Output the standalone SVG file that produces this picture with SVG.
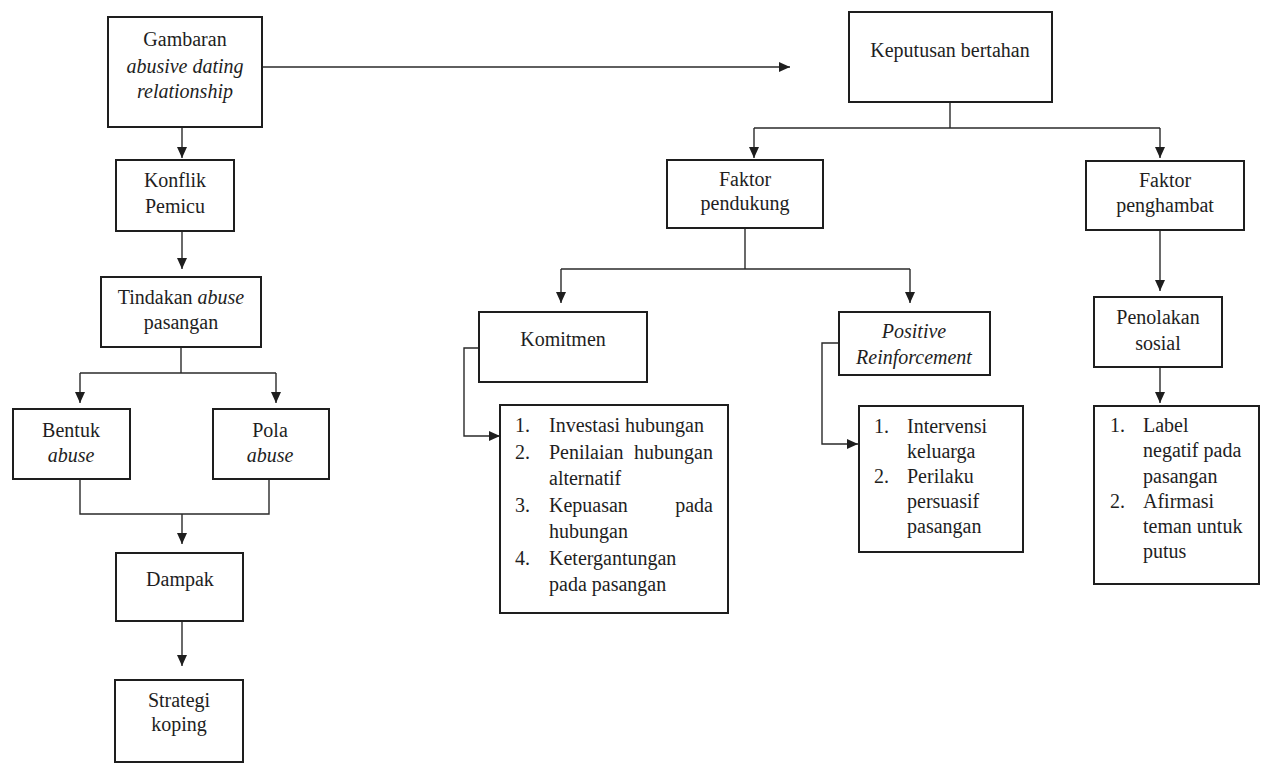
<svg xmlns="http://www.w3.org/2000/svg" width="1268" height="766" viewBox="0 0 1268 766">
  <style>
    .box { fill: #ffffff; stroke: #1e1e1e; stroke-width: 2; }
    .t { font-family: "Liberation Serif", "Times New Roman", serif; font-size: 20px; fill: #1e1e1e; }
    .c { text-anchor: middle; }
    .e { text-anchor: end; }
    .i { font-style: italic; }
    .wire { fill: none; stroke: #2a2a2a; stroke-width: 1.4; }
  </style>
  <defs>
    <marker id="arrow" markerUnits="userSpaceOnUse" markerWidth="11" markerHeight="10" refX="11" refY="5" orient="auto">
      <path d="M0,0 L11,5 L0,10 z" fill="#1e1e1e"/>
    </marker>
  </defs>
  <rect width="1268" height="766" fill="#ffffff"/>

  <!-- connectors -->
  <g id="connectors" class="wire">
    <path d="M262,67 H790" marker-end="url(#arrow)"/>
    <path d="M182,127 V158" marker-end="url(#arrow)"/>
    <path d="M182,231 V269" marker-end="url(#arrow)"/>
    <path d="M181,347 V373"/>
    <path d="M80,373 H276"/>
    <path d="M80,373 V403" marker-end="url(#arrow)"/>
    <path d="M276,373 V403" marker-end="url(#arrow)"/>
    <path d="M80,479 V514 H269 V479"/>
    <path d="M182,514 V544" marker-end="url(#arrow)"/>
    <path d="M182,621 V666" marker-end="url(#arrow)"/>
    <path d="M950,102 V128"/>
    <path d="M754,128 H1160"/>
    <path d="M754,128 V158" marker-end="url(#arrow)"/>
    <path d="M1160,128 V158" marker-end="url(#arrow)"/>
    <path d="M745,228 V269"/>
    <path d="M561,269 H910"/>
    <path d="M561,269 V303" marker-end="url(#arrow)"/>
    <path d="M910,269 V303" marker-end="url(#arrow)"/>
    <path d="M479,348 H464 V436 H500" marker-end="url(#arrow)"/>
    <path d="M839,343 H822 V444 H858" marker-end="url(#arrow)"/>
    <path d="M1160,230 V291" marker-end="url(#arrow)"/>
    <path d="M1160,367 V403" marker-end="url(#arrow)"/>
  </g>

  <!-- left column -->
  <g id="gambaran">
    <rect class="box" x="108" y="17" width="154" height="110"/>
    <text class="t c" x="185" y="46">Gambaran</text>
    <text class="t c i" x="185" y="73">abusive dating</text>
    <text class="t c i" x="185" y="98">relationship</text>
  </g>
  <g id="konflik">
    <rect class="box" x="116" y="160" width="118" height="71"/>
    <text class="t c" x="175" y="187">Konflik</text>
    <text class="t c" x="175" y="213">Pemicu</text>
  </g>
  <g id="tindakan">
    <rect class="box" x="101" y="277" width="160" height="70"/>
    <text class="t c" x="181" y="304">Tindakan <tspan class="i">abuse</tspan></text>
    <text class="t c" x="181" y="329">pasangan</text>
  </g>
  <g id="bentuk">
    <rect class="box" x="13" y="409" width="117" height="70"/>
    <text class="t c" x="71" y="437">Bentuk</text>
    <text class="t c i" x="71" y="462">abuse</text>
  </g>
  <g id="pola">
    <rect class="box" x="213" y="409" width="116" height="70"/>
    <text class="t c" x="270" y="437">Pola</text>
    <text class="t c i" x="270" y="462">abuse</text>
  </g>
  <g id="dampak">
    <rect class="box" x="116" y="553" width="127" height="68"/>
    <text class="t c" x="180" y="586">Dampak</text>
  </g>
  <g id="strategi">
    <rect class="box" x="115" y="680" width="128" height="82"/>
    <text class="t c" x="179" y="707">Strategi</text>
    <text class="t c" x="179" y="731">koping</text>
  </g>

  <!-- decision branch -->
  <g id="keputusan">
    <rect class="box" x="849" y="12" width="203" height="90"/>
    <text class="t c" x="950" y="57">Keputusan bertahan</text>
  </g>
  <g id="faktor-pendukung">
    <rect class="box" x="667" y="160" width="156" height="68"/>
    <text class="t c" x="745" y="186">Faktor</text>
    <text class="t c" x="745" y="210">pendukung</text>
  </g>
  <g id="faktor-penghambat">
    <rect class="box" x="1086" y="161" width="158" height="69"/>
    <text class="t c" x="1165" y="187">Faktor</text>
    <text class="t c" x="1165" y="212">penghambat</text>
  </g>
  <g id="komitmen">
    <rect class="box" x="479" y="312" width="168" height="70"/>
    <text class="t c" x="563" y="346">Komitmen</text>
  </g>
  <g id="komitmen-list">
    <rect class="box" x="500" y="405" width="228" height="208"/>
    <text class="t" x="515" y="432">1.</text>
    <text class="t" x="549" y="432">Investasi hubungan</text>
    <text class="t" x="515" y="459">2.</text>
    <text class="t" x="549" y="459">Penilaian</text>
    <text class="t e" x="713" y="459">hubungan</text>
    <text class="t" x="549" y="485">alternatif</text>
    <text class="t" x="515" y="512">3.</text>
    <text class="t" x="549" y="512">Kepuasan</text>
    <text class="t e" x="713" y="512">pada</text>
    <text class="t" x="549" y="538">hubungan</text>
    <text class="t" x="515" y="565">4.</text>
    <text class="t" x="549" y="565">Ketergantungan</text>
    <text class="t" x="549" y="591">pada pasangan</text>
  </g>
  <g id="positive">
    <rect class="box" x="839" y="312" width="151" height="63"/>
    <text class="t c i" x="914" y="338">Positive</text>
    <text class="t c i" x="914" y="364">Reinforcement</text>
  </g>
  <g id="positive-list">
    <rect class="box" x="859" y="406" width="164" height="146"/>
    <text class="t" x="874" y="433">1.</text>
    <text class="t" x="907" y="433">Intervensi</text>
    <text class="t" x="907" y="458">keluarga</text>
    <text class="t" x="874" y="483">2.</text>
    <text class="t" x="907" y="483">Perilaku</text>
    <text class="t" x="907" y="508">persuasif</text>
    <text class="t" x="907" y="533">pasangan</text>
  </g>
  <g id="penolakan">
    <rect class="box" x="1094" y="297" width="128" height="70"/>
    <text class="t c" x="1158" y="324">Penolakan</text>
    <text class="t c" x="1158" y="350">sosial</text>
  </g>
  <g id="penolakan-list">
    <rect class="box" x="1094" y="406" width="165" height="178"/>
    <text class="t" x="1110" y="432">1.</text>
    <text class="t" x="1143" y="432">Label</text>
    <text class="t" x="1143" y="457">negatif pada</text>
    <text class="t" x="1143" y="483">pasangan</text>
    <text class="t" x="1110" y="508">2.</text>
    <text class="t" x="1143" y="508">Afirmasi</text>
    <text class="t" x="1143" y="533">teman untuk</text>
    <text class="t" x="1143" y="558">putus</text>
  </g>
</svg>
